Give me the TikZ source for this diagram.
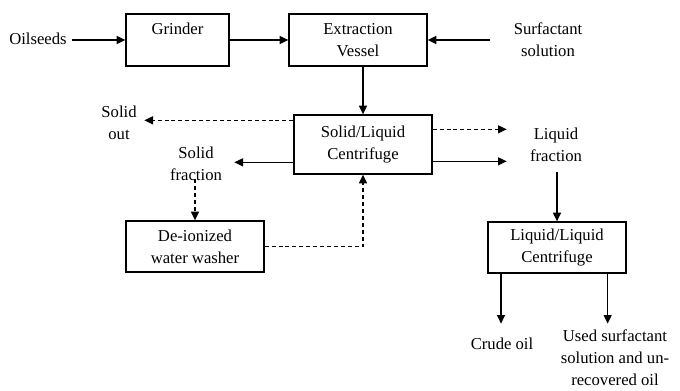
\documentclass[tikz,border=0pt]{standalone}
\usepackage{fontspec}
\setmainfont{Liberation Serif}
\usetikzlibrary{arrows.meta,calc}
\begin{document}
\begin{tikzpicture}[x=0.75pt,y=-0.75pt,
  txt/.style={align=center,inner sep=0pt,font=\rmfamily\fontsize{12.5}{16.5}\selectfont},
  box/.style={txt,draw,line width=1pt,minimum width=103.5pt},
  arr/.style={line width=0.9pt,-{Triangle[length=6.5pt,width=6pt]}},
  dsh/.style={arr,dash pattern=on 3pt off 2.2pt}]
\useasboundingbox (0,0) rectangle (680,391);
% boxes
\node[box,minimum width=77.25pt,minimum height=39pt] (grinder) at (177.5,40) {Grinder\\~};
\node[box,minimum height=39pt] (ext) at (358,40) {Extraction\\Vessel};
\node[box,minimum height=44.25pt] (slc) at (363,144.5) {Solid/Liquid\\Centrifuge};
\node[box,minimum height=38.25pt] (deion) at (195,246.5) {De-ionized\\water washer};
\node[box,minimum height=38.25pt] (llc) at (557,247.5) {Liquid/Liquid\\Centrifuge};
% labels
\node[txt] (oil) at (38,39) {Oilseeds};
\node[txt] (surf) at (548,40) {Surfactant\\solution};
\node[txt] (sout) at (119,123) {Solid\\out};
\node[txt] (sfrac) at (196,164) {Solid\\fraction};
\node[txt] (lfrac) at (556,145) {Liquid\\fraction};
\node[txt] (crude) at (502,344) {Crude oil};
\node[txt] (used) at (615,358) {Used surfactant\\solution and un-\\recovered oil};
% connectors
\draw[arr] ([xshift=3.75pt]oil.east |- grinder.west) -- (grinder.west);
\draw[arr] (grinder.east) -- (grinder.east -| ext.west);
\draw[arr] ($(ext.east)+(62,0)$) -- (ext.east);
\draw[arr] (slc.north |- ext.south) -- (slc.north);
\draw[dsh] ([yshift=-4.5pt]slc.north west) -- ++(-149,0);
\draw[arr] ([yshift=-36pt]slc.north west) -- ++(-59,0);
\draw[dsh] ([yshift=-11.25pt]slc.north east) -- ++(74,0);
\draw[arr] ([yshift=-35.25pt]slc.north east) -- ++(74,0);
\draw[dsh] ($(deion.north)+(0,-41)$) -- (deion.north);
\draw[dsh] (deion.east) -| (slc.south);
\draw[arr] ($(llc.north)+(0,-49)$) -- (llc.north);
\draw[arr] ([xshift=-42pt]llc.south) -- ++(0,50);
\draw[arr] ([xshift=-14.25pt]llc.south east) -- ++(0,50);
\end{tikzpicture}
\end{document}
